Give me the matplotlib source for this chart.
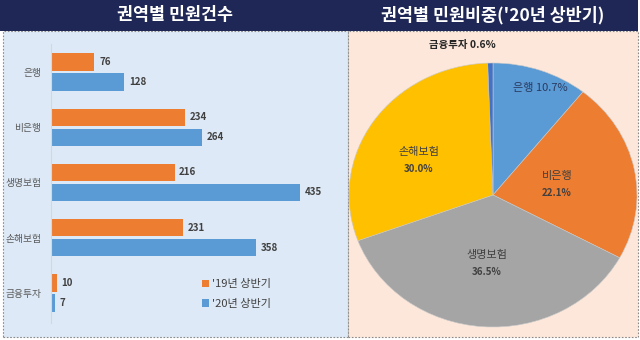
import matplotlib
matplotlib.use("Agg")
import matplotlib.pyplot as plt
from matplotlib.patches import Rectangle

plt.rcParams['font.family'] = ['Noto Sans CJK KR', 'DejaVu Sans']

categories = ['은행', '비은행', '생명보험', '손해보험', '금융투자']
h1_2019 = [76, 234, 216, 231, 10]
h1_2020 = [128, 264, 435, 358, 7]
series_names = ["'19년 상반기", "'20년 상반기"]
left_title = '권역별 민원건수'
right_title = "권역별 민원비중('20년 상반기)"

C_OR = '#ED7D31'
C_BL = '#5B9BD5'
pie_colors = ['#5B9BD5', '#ED7D31', '#A5A5A5', '#FFC000', '#4472C4']

W, H = 640, 340
fig = plt.figure(figsize=(6.4, 3.4), dpi=100)
fig.patch.set_facecolor('white')

def fr(x, y, w, h):
    # pixel rect (top-left origin) -> figure fraction
    return (x / W, 1 - (y + h) / H, w / W, h / H)

# backgrounds
x0, y0, w0, h0 = fr(3, 31, 345, 306)
fig.patches.append(Rectangle((x0, y0), w0, h0, transform=fig.transFigure,
                             facecolor='#DDE9F6', edgecolor='#8A8A8A', lw=0.8,
                             ls=(0, (1.5, 1.5)), zorder=-2))
x0, y0, w0, h0 = fr(348, 31, 290, 306)
fig.patches.append(Rectangle((x0, y0), w0, h0, transform=fig.transFigure,
                             facecolor='#FDE7DA', edgecolor='#8A8A8A', lw=0.8,
                             ls=(0, (1.5, 1.5)), zorder=-2))
x0, y0, w0, h0 = fr(0, 0, 638, 31)
fig.patches.append(Rectangle((x0, y0), w0, h0, transform=fig.transFigure,
                             facecolor='#1E2756', edgecolor='none', zorder=-1))
fig.text(175 / W, 1 - 15 / H, left_title, color='white', fontsize=12.5,
         fontweight='bold', ha='center', va='center')
fig.text(493 / W, 1 - 15 / H, right_title, color='white', fontsize=12.5,
         fontweight='bold', ha='center', va='center')

# ---- bar chart ----
ax = fig.add_axes(fr(51, 40, 286, 290))
ax.set_facecolor('none')
n = len(categories)
ys = list(range(n))
off = 0.181
bh = 0.31
b1 = ax.barh([y - off for y in ys], h1_2019, height=bh, color=C_OR, label=series_names[0])
b2 = ax.barh([y + off for y in ys], h1_2020, height=bh, color=C_BL, label=series_names[1])
ax.set_xlim(0, 500)
ax.set_ylim(4.67, -0.579)
ax.set_xticks([])
ax.set_yticks(ys)
ax.set_yticklabels(categories, fontsize=7, color='#595959')
ax.tick_params(axis='y', length=0, pad=7)
for s in ['top', 'right', 'bottom']:
    ax.spines[s].set_visible(False)
ax.spines['left'].set_color('#D0D8E2')
ax.spines['left'].set_bounds(-0.5, 4.55)
for bars, vals in ((b1, h1_2019), (b2, h1_2020)):
    for b, v in zip(bars, vals):
        ax.text(v + 8, b.get_y() + b.get_height() / 2, f'{v}', fontsize=7,
                fontweight='bold', color='#404040', va='center', ha='left')
ax.legend(handles=[b1, b2], loc='upper left', frameon=False,
          bbox_to_anchor=(198 / W, 1 - 275 / H), bbox_transform=fig.transFigure,
          fontsize=8, handlelength=0.6, handleheight=0.6, handletextpad=0.3,
          labelspacing=0.85, labelcolor='#404040', borderaxespad=0)

# ---- pie chart ----
pax = fig.add_axes(fr(349, 63, 288, 264))
total = sum(h1_2020)
pax.pie(h1_2020, colors=pie_colors, startangle=90, counterclock=False,
        wedgeprops=dict(edgecolor='#C9C9C9', linewidth=0.4))
pax.set_aspect('auto')
pax.set_xlim(-1, 1)
pax.set_ylim(-1, 1)
pct = [v / total * 100 for v in h1_2020]

def px2d(px, py):
    return ((px - 493) / 144, (195 - py) / 132)

lab_col = '#404040'
x, y = px2d(462, 45)
pax.text(x, y, f'{categories[4]} {pct[4]:.1f}%', fontsize=7.5, fontweight='bold',
         color='#262626', ha='center', va='center', clip_on=False)
x, y = px2d(540, 88)
pax.text(x, y, f'{categories[0]} {pct[0]:.1f}%', fontsize=8, color='#2A3A60',
         ha='center', va='center')
for i, (ppx, ppy) in ((1, (557, 176)), (3, (419, 152)), (2, (487, 255))):
    x, y = px2d(ppx, ppy)
    pax.text(x, y, categories[i], fontsize=8, color=lab_col, ha='center', va='center')
    x, y = px2d(ppx, ppy + 17)
    pax.text(x, y, f'{pct[i]:.1f}%', fontsize=7, fontweight='bold', color=lab_col,
             ha='center', va='center')

fig.savefig('out.png', dpi=100, facecolor=fig.get_facecolor())
